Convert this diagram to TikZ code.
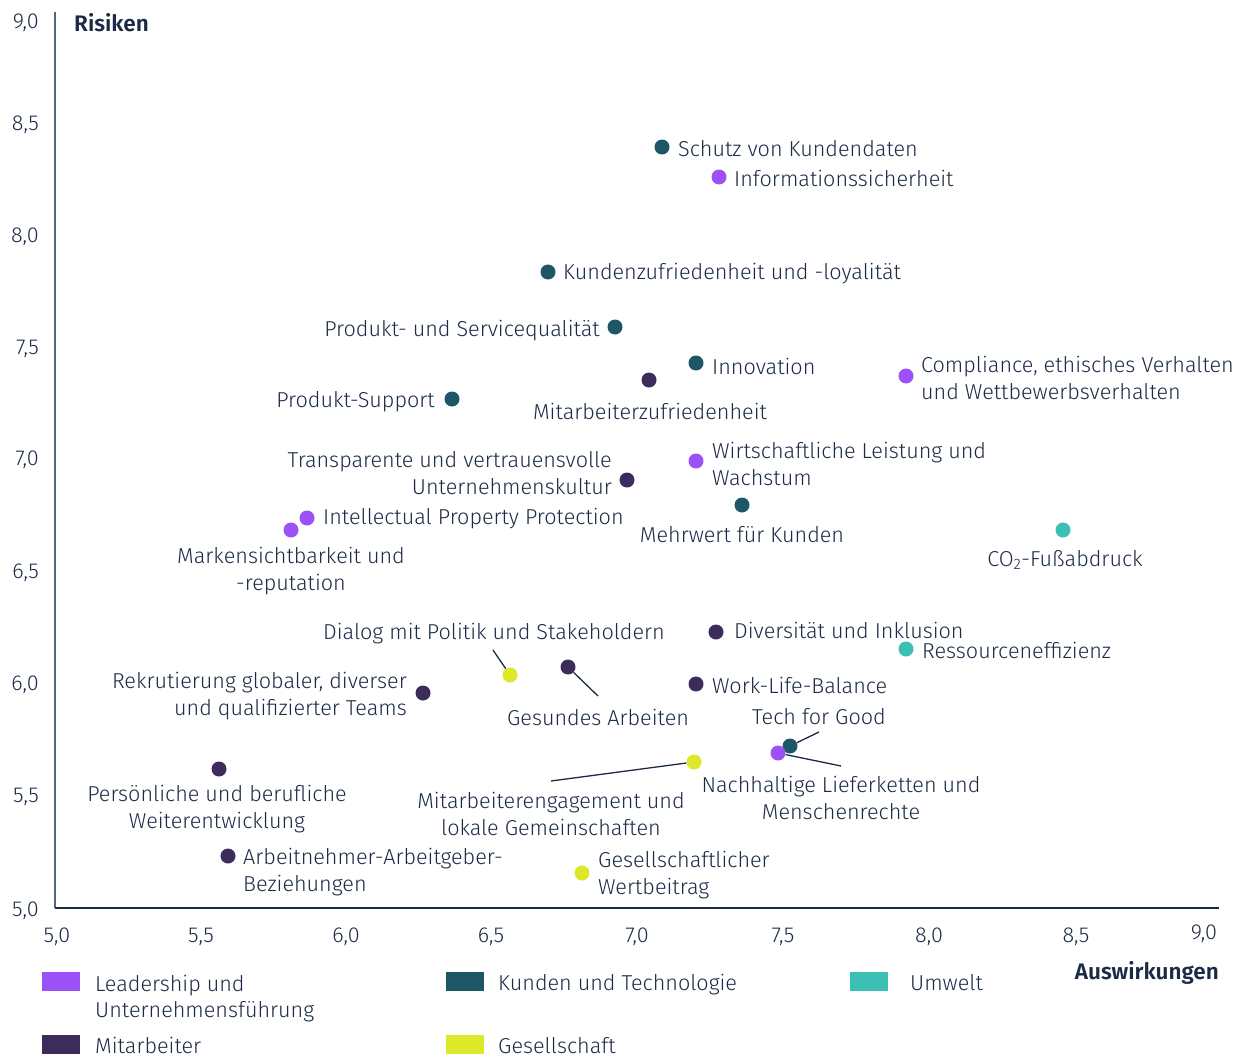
\documentclass[tikz,border=0pt]{standalone}
\usepackage{fontspec}
\setmainfont{Fira Sans}[UprightFont=* Light, BoldFont=* SemiBold]
\definecolor{lead}{HTML}{9B51F5}
\definecolor{kund}{HTML}{1D5666}
\definecolor{umw}{HTML}{3CC0B4}
\definecolor{mit}{HTML}{3C2C5C}
\definecolor{ges}{HTML}{DCE82A}
\definecolor{txt}{HTML}{1C2B45}
\definecolor{axv}{HTML}{56657A}
\begin{document}
\begin{tikzpicture}[x=1pt,y=-1pt,
  every node/.style={text=txt,font=\fontsize{21.6}{26.5}\selectfont,inner sep=0pt},
  dot/.style={circle,minimum size=15pt,draw=none},
  lbl/.style={anchor=west,align=left},
  lblr/.style={anchor=east,align=right},
  lblc/.style={anchor=center,align=center},
  tick/.style={font=\fontsize{21.6}{24}\selectfont},
  ttl/.style={font=\fontsize{22.5}{24}\bfseries\selectfont},
  conn/.style={draw=txt,line width=1.3pt},
  legsq/.style={minimum width=38pt,minimum height=19pt,draw=none}]
\useasboundingbox (0,0) rectangle (1247,1057);
% axes
\coordinate (ytop) at (55,12);
\coordinate (orig) at (55,908);
\coordinate (xend) at (1219,908);
\draw[axv,line width=2pt] (ytop) -- (orig);
\draw[txt,line width=2pt] (orig) -- (xend);
% y ticks
\node[tick,anchor=east] (y90) at (39,23) {9,0};
\node[tick,anchor=east] (y85) at (39,125) {8,5};
\node[tick,anchor=east] (y80) at (39,237) {8,0};
\node[tick,anchor=east] (y75) at (39,349) {7,5};
\node[tick,anchor=east] (y70) at (39,460) {7,0};
\node[tick,anchor=east] (y65) at (39,573) {6,5};
\node[tick,anchor=east] (y60) at (39,685) {6,0};
\node[tick,anchor=east] (y55) at (39,797) {5,5};
\node[tick,anchor=east] (y50) at (39,911) {5,0};
% x ticks
\node[tick] (x50) at (57,937) {5,0};
\node[tick] (x55) at (201,937) {5,5};
\node[tick] (x60) at (346,937) {6,0};
\node[tick] (x65) at (491,937) {6,5};
\node[tick] (x70) at (637,937) {7,0};
\node[tick] (x75) at (783,937) {7,5};
\node[tick] (x80) at (929,937) {8,0};
\node[tick] (x85) at (1076,937) {8,5};
\node[tick] (x90) at (1204,934) {9,0};
% axis titles
\node[anchor=west,ttl] (risiken) at (74,23) {Risiken};
\node[anchor=east,ttl] (ausw) at (1219,973) {Auswirkungen};
% data points
\node[dot,fill=kund] (d1) at (662,147) {};
\node[lbl] (l1) at (678,149) {Schutz von Kundendaten};
\node[dot,fill=lead] (d2) at (719,177) {};
\node[lbl] (l2) at (734,178) {Informationssicherheit};
\node[dot,fill=kund] (d3) at (548,272) {};
\node[lbl] (l3) at (563,274) {Kundenzufriedenheit und -loyalität};
\node[dot,fill=kund] (d4) at (615,327) {};
\node[lblr] (l4) at (600,331) {Produkt- und Servicequalität};
\node[dot,fill=kund] (d5) at (696,363) {};
\node[lbl] (l5) at (712,366) {Innovation};
\node[dot,fill=mit] (d6) at (649,380) {};
\node[lblc] (l6) at (650,411) {Mitarbeiterzufriedenheit};
\node[dot,fill=lead] (d7) at (906,376) {};
\node[lbl] (l7) at (921,378) {Compliance, ethisches Verhalten\\und Wettbewerbsverhalten};
\node[dot,fill=kund] (d8) at (452,399) {};
\node[lblr] (l8) at (435,402) {Produkt-Support};
\node[dot,fill=mit] (d9) at (627,480) {};
\node[lblr] (l9) at (612,473) {Transparente und vertrauensvolle\\Unternehmenskultur};
\node[dot,fill=lead] (d10) at (696,461) {};
\node[lbl] (l10) at (712,464) {Wirtschaftliche Leistung und\\Wachstum};
\node[dot,fill=kund] (d11) at (742,505) {};
\node[lblc] (l11) at (742,535) {Mehrwert für Kunden};
\node[dot,fill=lead] (d12) at (307,518) {};
\node[lbl] (l12) at (323,519) {Intellectual Property Protection};
\node[dot,fill=lead] (d13) at (291,530) {};
\node[lblc] (l13) at (291,571) {Markensichtbarkeit und\\-reputation};
\node[dot,fill=umw] (d14) at (1063,530) {};
\node[lblc] (l14) at (1065,560) {CO\textsubscript{2}-Fußabdruck};
\node[dot,fill=ges] (d15) at (510,675) {};
\node[lblc] (l15) at (494,634) {Dialog mit Politik und Stakeholdern};
\coordinate (c15) at (493,650);
\draw[conn] (d15) -- (c15);
\node[dot,fill=mit] (d16) at (716,632) {};
\node[lbl] (l16) at (734,630) {Diversität und Inklusion};
\node[dot,fill=umw] (d17) at (906,649) {};
\node[lbl] (l17) at (922,650) {Ressourceneffizienz};
\node[dot,fill=mit] (d18) at (568,667) {};
\node[lblc] (l18) at (598,717) {Gesundes Arbeiten};
\coordinate (c18) at (598,696);
\draw[conn] (d18) -- (c18);
\node[dot,fill=mit] (d19) at (423,693) {};
\node[lblr] (l19) at (407,696) {Rekrutierung globaler, diverser\\und qualifizierter Teams};
\node[dot,fill=mit] (d20) at (696,684) {};
\node[lbl] (l20) at (712,685) {Work-Life-Balance};
\node[dot,fill=kund] (d21) at (790,746) {};
\node[lblc] (l21) at (819,717) {Tech for Good};
\coordinate (c21) at (819,732);
\draw[conn] (d21) -- (c21);
\node[dot,fill=lead] (d22) at (778,753) {};
\node[lblc] (l22) at (841,798) {Nachhaltige Lieferketten und\\Menschenrechte};
\coordinate (c22) at (841,766);
\draw[conn] (d22) -- (c22);
\node[dot,fill=ges] (d23) at (694,762) {};
\node[lblc] (l23) at (551,814) {Mitarbeiterengagement und\\lokale Gemeinschaften};
\coordinate (c23) at (551,781);
\draw[conn] (d23) -- (c23);
\node[dot,fill=mit] (d24) at (219,769) {};
\node[lblc] (l24) at (217,809) {Persönliche und berufliche\\Weiterentwicklung};
\node[dot,fill=mit] (d25) at (228,856) {};
\node[lbl] (l25) at (243,872) {Arbeitnehmer-Arbeitgeber-\\Beziehungen};
\node[dot,fill=ges] (d26) at (582,873) {};
\node[lbl] (l26) at (598,875) {Gesellschaftlicher\\Wertbeitrag};
% legend
\node[legsq,fill=lead] (s1) at (61,981.5) {};
\node[anchor=north west,align=left] (t1) at (95,975) {Leadership und\\Unternehmensführung};
\node[legsq,fill=kund] (s2) at (465,981.5) {};
\node[anchor=base west] (t2) at (498,990) {Kunden und Technologie};
\node[legsq,fill=umw] (s3) at (869,981.5) {};
\node[anchor=base west] (t3) at (910,990) {Umwelt};
\node[legsq,fill=mit] (s4) at (61,1044.5) {};
\node[anchor=base west] (t4) at (95,1053) {Mitarbeiter};
\node[legsq,fill=ges] (s5) at (465,1044.5) {};
\node[anchor=base west] (t5) at (498,1053) {Gesellschaft};
\end{tikzpicture}
\end{document}
